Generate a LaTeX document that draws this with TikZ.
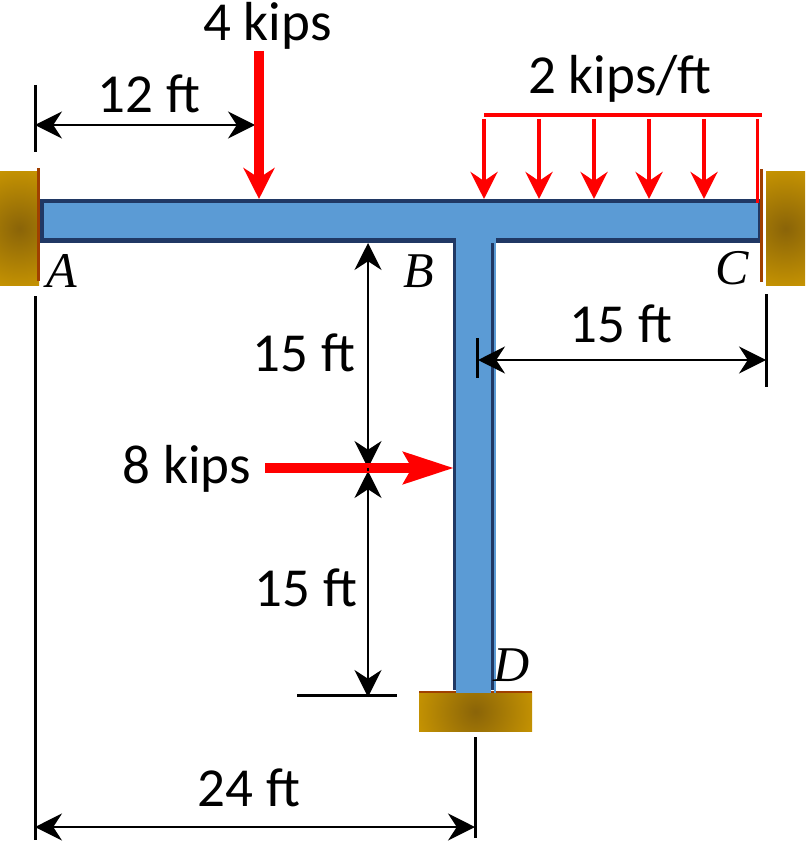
\documentclass[tikz,border=0pt]{standalone}
\usepackage{fontspec}
\setmainfont{Carlito}
\newfontfamily\labelserif{Liberation Serif}
\usetikzlibrary{arrows.meta, positioning}
\definecolor{beamblue}{HTML}{5B9BD5}
\definecolor{beamdark}{HTML}{203864}
\definecolor{wallbrown}{HTML}{A04000}
\definecolor{wallmid}{HTML}{8A6408}
\definecolor{walledge}{HTML}{D8A200}
\pgfdeclareradialshading{wallshade}{\pgfpoint{0bp}{0bp}}{color(0bp)=(wallmid); color(35bp)=(walledge); color(50bp)=(walledge)}
\tikzset{
	dimtext/.style={font=\fontsize{55}{60}\selectfont, inner sep=0pt, anchor=base},
	pointtext/.style={font=\fontsize{50}{56}\selectfont\labelserif\itshape, inner sep=0pt},
	dimline/.style={black, line width=2pt, {Stealth[length=27pt,width=27pt]}-{Stealth[length=27pt,width=27pt]}},
	tickline/.style={black, line width=3pt},
	bigload/.style={red, line width=10pt, -{Stealth[length=31pt,width=31pt,inset=10pt]}},
	sideload/.style={red, line width=10.5pt, -{Stealth[length=50pt,width=31pt,inset=8pt]}},
	udlarrow/.style={red, line width=4.5pt, -{Stealth[length=27pt,width=27pt,inset=9pt]}}
}
\begin{document}
\begin{tikzpicture}[x=1pt, y=-1pt]
	\useasboundingbox (0,0) rectangle (805,842);
	% walls
	\begin{scope}
		\clip (0,172) rectangle (39,285);
		\shade[shading=wallshade] (-37,172) rectangle (76,285);
	\end{scope}
	\begin{scope}
		\clip (766,172) rectangle (805,285);
		\shade[shading=wallshade] (729,172) rectangle (842,285);
	\end{scope}
	\begin{scope}
		\clip (419,692) rectangle (532,731);
		\shade[shading=wallshade] (419,655) rectangle (532,768);
	\end{scope}
	\fill[wallbrown] (37,168) rectangle (40,281);
	\fill[wallbrown] (760,169) rectangle (763,282);
	\fill[wallbrown] (419,691) rectangle (532,692.5);
	% beam and column
	\fill[beamdark] (40,199) rectangle (760,243);
	\fill[beamdark] (453,240) rectangle (494,690);
	\fill[beamblue] (44,203) rectangle (758,238);
	\fill[beamblue] (456,203) rectangle (491,693);
	\fill[beamblue] (456,238) rectangle (496,243);
	\fill[beamblue] (494,240) rectangle (496,693);
	% reference points
	\coordinate (leftedge) at (35,125);
	\coordinate (loadtip) at (259,199);
	\coordinate (loadtop) at (259,51);
	\coordinate (dimfoot) at (255,125);
	\coordinate (beamunder) at (368,243);
	\coordinate (midupper) at (368,468);
	\coordinate (midlower) at (368,471);
	\coordinate (columnfoot) at (368,697);
	\coordinate (sidestart) at (265,468);
	\coordinate (sidetip) at (454,468);
	\coordinate (columnmid) at (478,360);
	\coordinate (rightedge) at (766,360);
	\coordinate (baseleft) at (35,827);
	\coordinate (baseright) at (475,827);
	\coordinate (udlleft) at (484,115);
	\coordinate (udlright) at (762,115);
	% extension lines
	\draw[tickline] (35,85) -- (35,152);
	\draw[tickline] (35,296) -- (35,840);
	\draw[tickline] (766,294) -- (766,387);
	\draw[tickline] (477,338) -- (477,378);
	\draw[tickline] (475,737) -- (475,838);
	\draw[tickline] (297,695) -- (397,695);
	% dimensions
	\draw[dimline] (leftedge) -- (dimfoot);
	\draw[dimline] (beamunder) -- (midupper);
	\draw[dimline] (midlower) -- (columnfoot);
	\draw[dimline] (columnmid) -- (rightedge);
	\draw[dimline] (baseleft) -- (baseright);
	% loads
	\draw[sideload] (sidestart) -- (sidetip);
	\draw[bigload] (loadtop) -- (loadtip);
	\draw[black, line width=2pt] (midupper) -- (midlower);
	\draw[red, line width=4pt] (udlleft) -- (udlright);
	\foreach \xpos in {484,539,594,649,704} {
		\coordinate (udltop) at (\xpos,119);
		\coordinate (udltip) at (\xpos,199);
		\draw[udlarrow] (udltop) -- (udltip);
	}
	\coordinate (udlendtop) at (757.5,119);
	\coordinate (udlendfoot) at (757.5,203);
	\draw[red, line width=3pt] (udlendtop) -- (udlendfoot);
	% labels
	\node at (267.5,41) (pointload) [dimtext] {4 kips};
	\node at (149,113) (leftspan) [dimtext] {12 ft};
	\node at (620,94) (udlload) [dimtext] {2 kips/ft};
	\node at (304,371) (upperspan) [dimtext] {15 ft};
	\node at (621,342) (rightspan) [dimtext] {15 ft};
	\node at (187,483) (sideforce) [dimtext] {8 kips};
	\node at (306,606) (lowerspan) [dimtext] {15 ft};
	\node at (249,806) (basespan) [dimtext] {24 ft};
	\node at (62,271) (A) [pointtext] {A};
	\node at (419,271) (B) [pointtext] {B};
	\node at (732,268) (C) [pointtext] {C};
	\node at (512,665) (D) [pointtext] {D};
\end{tikzpicture}
\end{document}
